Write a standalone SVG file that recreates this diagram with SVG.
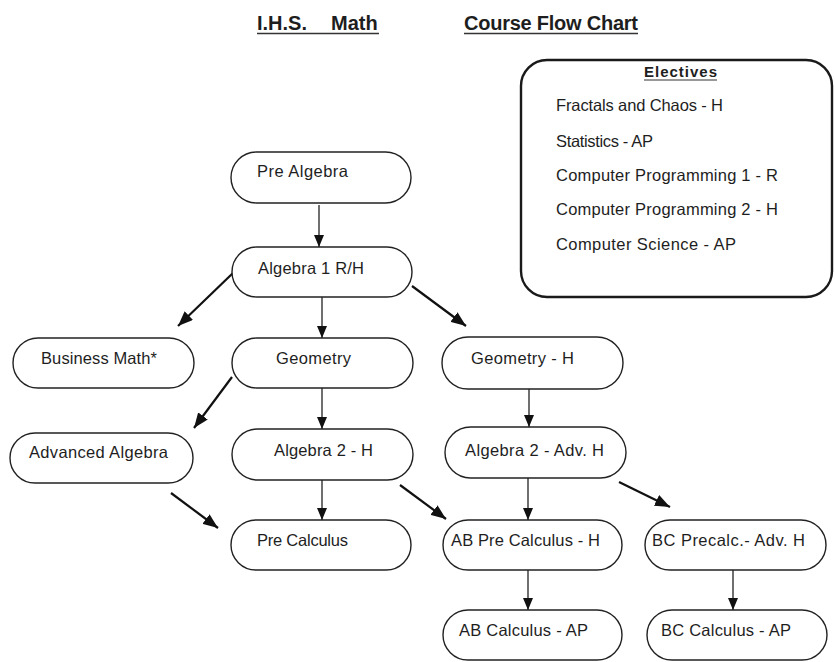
<svg xmlns="http://www.w3.org/2000/svg" width="835" height="662" viewBox="0 0 835 662">
<style>
.bg{fill:#fff}
.node{fill:#fff;stroke:#222;stroke-width:1.4}
.elec{fill:#fff;stroke:#1a1a1a;stroke-width:2.4}
.t{font-family:"Liberation Sans",Arial,sans-serif;font-size:16.5px;fill:#1e1e1e}
.h{font-family:"Liberation Sans",Arial,sans-serif;font-weight:bold;font-size:20px;fill:#1e1e1e}
.eh{font-family:"Liberation Sans",Arial,sans-serif;font-weight:bold;font-size:15px;fill:#1e1e1e}
.ul{stroke:#333;stroke-width:1.6}
.thin{stroke:#222;stroke-width:1.3;fill:none}
.thick{stroke:#111;stroke-width:2.2;fill:none}
</style>
<defs>
<marker id="ah" markerUnits="userSpaceOnUse" markerWidth="12" markerHeight="10" refX="12" refY="5" orient="auto">
<path d="M0,0 L12,5 L0,10 Z" fill="#111"/>
</marker>
<marker id="ahb" markerUnits="userSpaceOnUse" markerWidth="15" markerHeight="12" refX="15" refY="6" orient="auto">
<path d="M0,0 L15,6 L0,12 Z" fill="#111"/>
</marker>
</defs>
<rect class="bg" x="0" y="0" width="835" height="662"/>

<g id="title">
<text class="h" x="257" y="30" xml:space="preserve">I.H.S.  <tspan x="331">Math</tspan></text>
<line class="ul" x1="257" y1="33.5" x2="379" y2="33.5"/>
<text class="h" x="464" y="30" textLength="174">Course Flow Chart</text>
<line class="ul" x1="464" y1="33.5" x2="638" y2="33.5"/>
</g>

<g id="electives">
<rect class="elec" x="521" y="60" width="311" height="237" rx="26"/>
<text class="eh" x="644" y="77" textLength="73">Electives</text>
<line class="ul" x1="644" y1="80" x2="717" y2="80" style="stroke-width:1.2"/>
<text class="t" x="556" y="111" textLength="167">Fractals and Chaos - H</text>
<text class="t" x="556" y="147" textLength="97">Statistics - AP</text>
<text class="t" x="556" y="181" textLength="222">Computer Programming 1 - R</text>
<text class="t" x="556" y="215" textLength="222">Computer Programming 2 - H</text>
<text class="t" x="556" y="250" textLength="180">Computer Science - AP</text>
</g>

<g id="connectors">
<line class="thin" x1="319" y1="205" x2="319" y2="247" marker-end="url(#ah)"/>
<line class="thick" x1="233" y1="273" x2="178" y2="326" marker-end="url(#ahb)"/>
<line class="thin" x1="322" y1="297" x2="322" y2="338" marker-end="url(#ah)"/>
<line class="thick" x1="412" y1="286" x2="466" y2="326" marker-end="url(#ahb)"/>
<line class="thick" x1="232" y1="377" x2="194" y2="428" marker-end="url(#ahb)"/>
<line class="thin" x1="322" y1="388" x2="322" y2="429" marker-end="url(#ah)"/>
<line class="thin" x1="529" y1="389" x2="529" y2="427" marker-end="url(#ah)"/>
<line class="thick" x1="171" y1="493" x2="218" y2="528" marker-end="url(#ahb)"/>
<line class="thin" x1="322" y1="480" x2="322" y2="520" marker-end="url(#ah)"/>
<line class="thick" x1="400" y1="485" x2="446" y2="519" marker-end="url(#ahb)"/>
<line class="thin" x1="528" y1="478" x2="528" y2="520" marker-end="url(#ah)"/>
<line class="thick" x1="619" y1="482" x2="670" y2="507" marker-end="url(#ahb)"/>
<line class="thin" x1="528" y1="570" x2="528" y2="610" marker-end="url(#ah)"/>
<line class="thin" x1="733" y1="570" x2="733" y2="610" marker-end="url(#ah)"/>
</g>

<g id="pre-algebra"><rect class="node" x="231" y="152" width="180" height="51" rx="25.5"/><text class="t" x="257" y="177" textLength="91">Pre Algebra</text></g>
<g id="algebra-1"><rect class="node" x="232" y="247" width="180" height="50" rx="25"/><text class="t" x="258" y="274" textLength="106">Algebra 1 R/H</text></g>
<g id="business-math"><rect class="node" x="13" y="338" width="181" height="50" rx="25"/><text class="t" x="41" y="364" textLength="116">Business Math*</text></g>
<g id="geometry"><rect class="node" x="232" y="338" width="181" height="50" rx="25"/><text class="t" x="276" y="364" textLength="75">Geometry</text></g>
<g id="geometry-h"><rect class="node" x="442" y="337" width="181" height="52" rx="26"/><text class="t" x="471" y="364" textLength="103">Geometry - H</text></g>
<g id="advanced-algebra"><rect class="node" x="10" y="433" width="183" height="50" rx="25"/><text class="t" x="29" y="458" textLength="139">Advanced Algebra</text></g>
<g id="algebra-2-h"><rect class="node" x="232" y="429" width="181" height="51" rx="25.5"/><text class="t" x="274" y="456" textLength="99">Algebra 2 - H</text></g>
<g id="algebra-2-adv-h"><rect class="node" x="445" y="427" width="181" height="51" rx="25.5"/><text class="t" x="465" y="456" textLength="139">Algebra 2 - Adv. H</text></g>
<g id="pre-calculus"><rect class="node" x="231" y="520" width="180" height="50" rx="25"/><text class="t" x="257" y="546" textLength="91">Pre Calculus</text></g>
<g id="ab-pre-calculus-h"><rect class="node" x="443" y="520" width="179" height="50" rx="25"/><text class="t" x="451" y="546" textLength="149">AB Pre Calculus - H</text></g>
<g id="bc-precalc-adv-h"><rect class="node" x="645" y="520" width="181" height="50" rx="25"/><text class="t" x="652" y="546" textLength="153">BC Precalc.- Adv. H</text></g>
<g id="ab-calculus-ap"><rect class="node" x="443" y="610" width="179" height="50" rx="25"/><text class="t" x="459" y="636" textLength="129">AB Calculus - AP</text></g>
<g id="bc-calculus-ap"><rect class="node" x="647" y="610" width="180" height="50" rx="25"/><text class="t" x="661" y="636" textLength="130">BC Calculus - AP</text></g>
</svg>
